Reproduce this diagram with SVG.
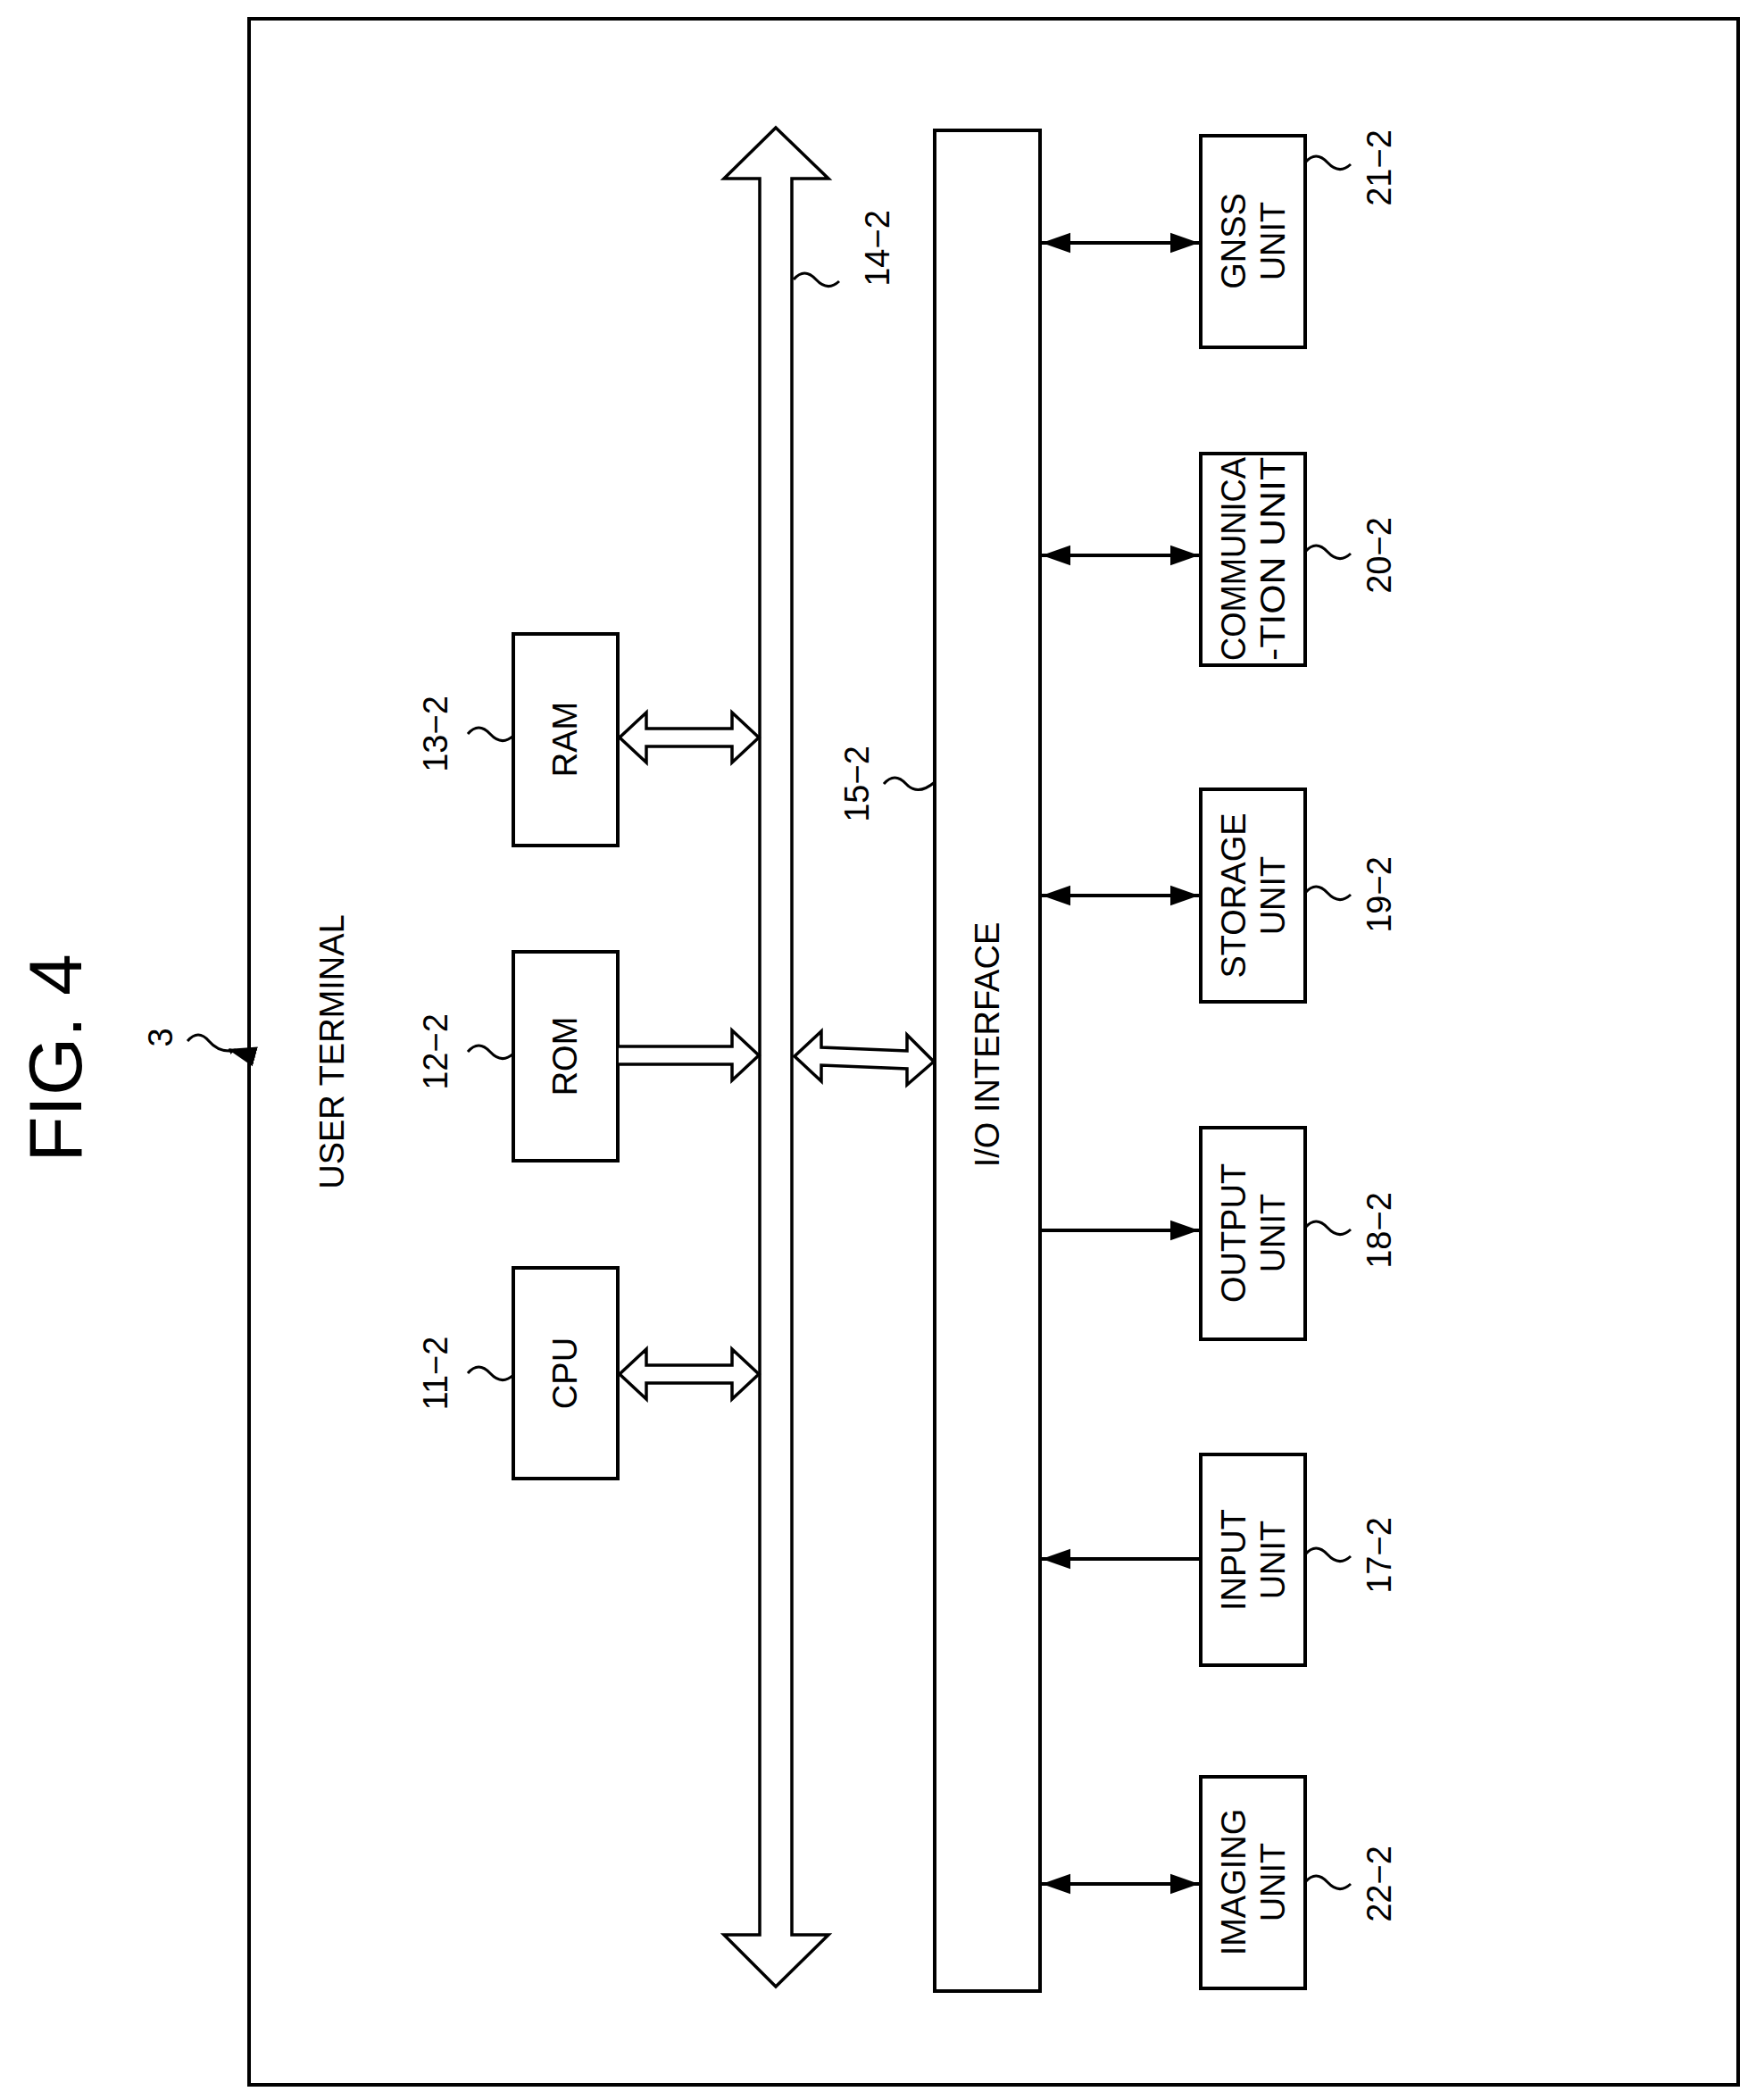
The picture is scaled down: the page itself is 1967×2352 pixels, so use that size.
<svg xmlns="http://www.w3.org/2000/svg" width="1967" height="2352" viewBox="0 0 1967 2352">
<style>
.b{fill:#fff;stroke:#000;stroke-width:4}
.l{fill:none;stroke:#000;stroke-width:4}
.h{fill:#fff;stroke:#000;stroke-width:3.5;stroke-linejoin:miter}
text{font-family:"Liberation Sans",Arial,sans-serif;font-size:38px;text-anchor:middle;dominant-baseline:central}
</style>
<defs>
<marker id="a" viewBox="0 0 10 10" refX="10" refY="5" markerWidth="7" markerHeight="7" markerUnits="userSpaceOnUse" orient="auto-start-reverse"><path d="M0,0 L10,5 L0,10 Z" fill="#000"/></marker>
<marker id="a2" viewBox="0 0 10 10" refX="10" refY="5" markerWidth="32" markerHeight="32" markerUnits="userSpaceOnUse" orient="auto-start-reverse"><path d="M0,1.5 L10,5 L0,8.5 Z" fill="#000"/></marker>
</defs>
<text x="62" y="1185" transform="rotate(-90 62 1185)" style="font-size:84px">FIG. 4</text>
<g id="frame">
<rect x="279" y="21" width="1668" height="2314" class="b"/>
<text x="372" y="1178" transform="rotate(-90 372 1178)">USER TERMINAL</text>
<text x="180" y="1162" transform="rotate(-90 180 1162)">3</text>
</g>
<g id="bus">
<path class="h" d="M869,143 L928,200 L887,200 L887,2167 L928,2167 L869,2225 L811,2167 L851,2167 L851,200 L811,200 Z"/>
<text x="983" y="278" transform="rotate(-90 983 278)">14−2</text>
</g>
<g id="io"><rect x="1047" y="146" width="118" height="2084" class="b"/><text x="1106" y="1170" transform="rotate(-90 1106 1170)">I/O INTERFACE</text><text x="960" y="878" transform="rotate(-90 960 878)">15−2</text></g>
<g id="ram"><rect x="575" y="710" width="117" height="237" class="b"/><text x="633" y="828" transform="rotate(-90 633 828)">RAM</text><text x="488" y="822" transform="rotate(-90 488 822)">13−2</text></g>
<g id="rom"><rect x="575" y="1066" width="117" height="234" class="b"/><text x="633" y="1183" transform="rotate(-90 633 1183)">ROM</text><text x="488" y="1178" transform="rotate(-90 488 1178)">12−2</text></g>
<g id="cpu"><rect x="575" y="1420" width="117" height="236" class="b"/><text x="633" y="1538" transform="rotate(-90 633 1538)">CPU</text><text x="488" y="1538" transform="rotate(-90 488 1538)">11−2</text></g>
<g id="gnss"><rect x="1345" y="152" width="117" height="237" class="b"/><text x="1382" y="270" transform="rotate(-90 1382 270)">GNSS</text><text x="1426" y="270" transform="rotate(-90 1426 270)">UNIT</text><text x="1545" y="188" transform="rotate(-90 1545 188)">21−2</text></g>
<g id="comm"><rect x="1345" y="508" width="117" height="237" class="b"/><text x="1382" y="626" transform="rotate(-90 1382 626)" textLength="228" lengthAdjust="spacingAndGlyphs">COMMUNICA</text><text x="1426" y="626" transform="rotate(-90 1426 626)" textLength="228" lengthAdjust="spacingAndGlyphs">-TION UNIT</text><text x="1545" y="622" transform="rotate(-90 1545 622)">20−2</text></g>
<g id="storage"><rect x="1345" y="884" width="117" height="238" class="b"/><text x="1382" y="1003" transform="rotate(-90 1382 1003)">STORAGE</text><text x="1426" y="1003" transform="rotate(-90 1426 1003)">UNIT</text><text x="1545" y="1002" transform="rotate(-90 1545 1002)">19−2</text></g>
<g id="output"><rect x="1345" y="1263" width="117" height="237" class="b"/><text x="1382" y="1381" transform="rotate(-90 1382 1381)">OUTPUT</text><text x="1426" y="1381" transform="rotate(-90 1426 1381)">UNIT</text><text x="1545" y="1378" transform="rotate(-90 1545 1378)">18−2</text></g>
<g id="input"><rect x="1345" y="1629" width="117" height="236" class="b"/><text x="1382" y="1747" transform="rotate(-90 1382 1747)">INPUT</text><text x="1426" y="1747" transform="rotate(-90 1426 1747)">UNIT</text><text x="1545" y="1742" transform="rotate(-90 1545 1742)">17−2</text></g>
<g id="imaging"><rect x="1345" y="1990" width="117" height="237" class="b"/><text x="1382" y="2108" transform="rotate(-90 1382 2108)">IMAGING</text><text x="1426" y="2108" transform="rotate(-90 1426 2108)">UNIT</text><text x="1545" y="2110" transform="rotate(-90 1545 2110)">22−2</text></g>
<g id="connectors">
<path class="l" d="M1167,272 H1343" marker-start="url(#a2)" marker-end="url(#a2)"/>
<path class="l" d="M1167,622 H1343" marker-start="url(#a2)" marker-end="url(#a2)"/>
<path class="l" d="M1167,1003 H1343" marker-start="url(#a2)" marker-end="url(#a2)"/>
<path class="l" d="M1165,1378 H1343" marker-end="url(#a2)"/>
<path class="l" d="M1167,1746 H1345" marker-start="url(#a2)"/>
<path class="l" d="M1167,2110 H1343" marker-start="url(#a2)" marker-end="url(#a2)"/>
<path class="h" d="M694,826 L724,798 L724,816 L820,816 L820,798 L850,826 L820,854 L820,836 L724,836 L724,854 Z"/>
<path class="h" d="M693,1172 L820,1172 L820,1154 L850,1182 L820,1210 L820,1192 L693,1192"/>
<path class="h" d="M694,1539 L724,1511 L724,1529 L820,1529 L820,1511 L850,1539 L820,1567 L820,1549 L724,1549 L724,1567 Z"/>
<path class="h" d="M890,1183 L920,1155 L920,1173 L1016,1177 L1016,1159 L1046,1189 L1016,1215 L1016,1197 L920,1193 L920,1211 Z"/>
<path class="l" d="M210,1166 q12,-14 24,0 t30,10" marker-end="url(#a)" style="stroke-width:3"/>
<path class="l" d="M277,1181 L255,1175" marker-end="url(#a2)" style="stroke-width:0"/>
<path class="l" d="M524,822 q12,-14 25,0 t26,2" style="stroke-width:3"/>
<path class="l" d="M524,1178 q12,-14 25,0 t26,2" style="stroke-width:3"/>
<path class="l" d="M524,1538 q12,-14 25,0 t26,2" style="stroke-width:3"/>
<path class="l" d="M889,313 q12,-14 25,0 t26,2" style="stroke-width:3"/>
<path class="l" d="M990,878 q12,-14 25,0 t32,-2" style="stroke-width:3"/>
<path class="l" d="M1462,182 q12,-14 25,0 t26,2" style="stroke-width:3"/>
<path class="l" d="M1462,618 q12,-14 25,0 t26,2" style="stroke-width:3"/>
<path class="l" d="M1462,1000 q12,-14 25,0 t26,2" style="stroke-width:3"/>
<path class="l" d="M1462,1375 q12,-14 25,0 t26,2" style="stroke-width:3"/>
<path class="l" d="M1462,1741 q12,-14 25,0 t26,2" style="stroke-width:3"/>
<path class="l" d="M1462,2108 q12,-14 25,0 t26,2" style="stroke-width:3"/>
</g>
</svg>
